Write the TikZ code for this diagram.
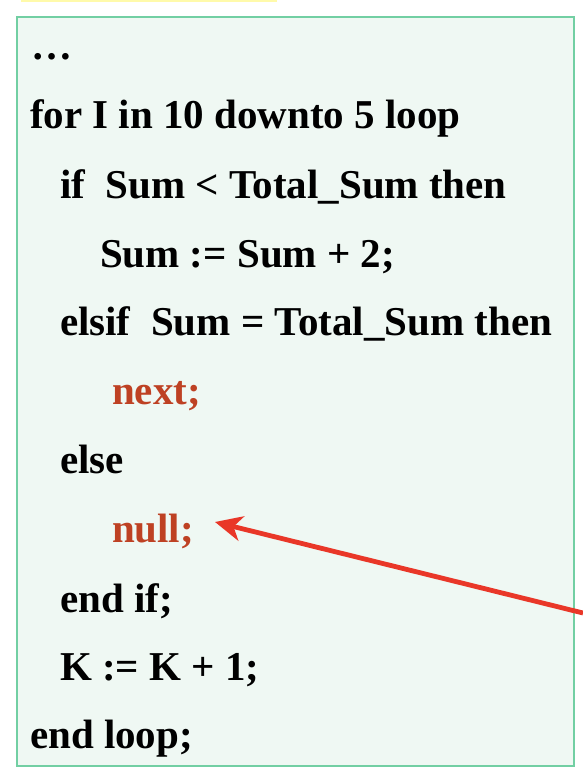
\documentclass[tikz,border=0pt]{standalone}
\usepackage{fontspec}
\setmainfont{Liberation Serif}
\usetikzlibrary{arrows.meta}
\definecolor{boxfill}{RGB}{239,248,243}
\definecolor{boxline}{RGB}{114,207,163}
\definecolor{barfill}{RGB}{255,250,170}
\definecolor{kwred}{RGB}{190,65,35}
\definecolor{arrred}{RGB}{233,55,40}
\tikzset{
  codeline/.style={anchor=base west, inner sep=0pt, outer sep=0pt,
    font=\fontsize{41}{49}\selectfont\bfseries, text=black},
  redcode/.style={codeline, text=kwred},
  pointer/.style={draw=arrred, line width=4.8pt,
    -{Stealth[length=27pt,width=25pt,inset=8pt]}}
}
\begin{document}
\begin{tikzpicture}[x=1pt,y=1pt]
\useasboundingbox (0,0) rectangle (582,-778);
\fill[white] (0,0) rectangle (582,-778);
\fill[barfill] (21,0) rectangle (277,-2.5);
\draw[boxline, fill=boxfill, line width=1.5pt] (17,-17) rectangle (574,-766);
\node[codeline] (l0) at (31,-60) {…};
\node[codeline] (l1) at (30,-129) {for I in 10 downto 5 loop};
\node[codeline] (l2) at (60,-198) {if\ \ Sum < Total\_Sum then};
\node[codeline] (l3) at (100,-267) {Sum := Sum + 2;};
\node[codeline] (l4) at (60,-335) {elsif\ \ Sum = Total\_Sum then};
\node[redcode] (l5) at (112,-404) {next;};
\node[codeline] (l6) at (60,-473) {else};
\node[redcode] (l7) at (112,-542) {null;};
\node[codeline] (l8) at (60,-612) {end if;};
\node[codeline] (l9) at (60,-680) {K := K + 1;};
\node[codeline] (l10) at (30,-748) {end loop;};
\coordinate (arrstart) at (583,-613);
\coordinate (arrtip) at (215,-522);
\draw[pointer] (arrstart) -- (arrtip);
\end{tikzpicture}
\end{document}
